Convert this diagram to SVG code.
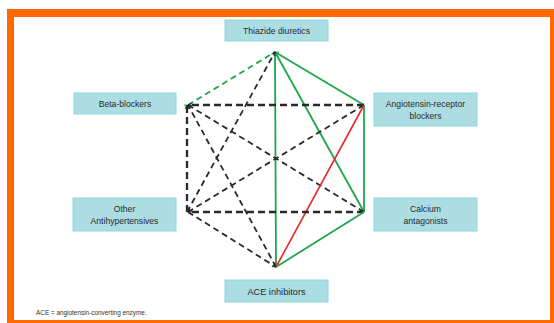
<svg xmlns="http://www.w3.org/2000/svg" width="554" height="323" viewBox="0 0 554 323">
<style>
.box{fill:#abdde3;stroke:#8fd6e0;stroke-width:1}
.lbl{font-family:"Liberation Sans",Arial,sans-serif;font-size:8.6px;fill:#2a2a2a;text-anchor:middle}
.dash{stroke:#2a2a2a;stroke-width:1.8;stroke-dasharray:6 4;fill:none}
.thick{stroke-width:2.3;stroke-dasharray:7 4}
.gdash{stroke:#1fa64a;stroke-width:1.8;stroke-dasharray:6 4;fill:none}
.green{stroke:#1fa64a;stroke-width:1.8;fill:none}
.red{stroke:#e8262a;stroke-width:1.6;fill:none}
</style>
<defs>
<marker id="ak" viewBox="0 0 8 8" refX="7" refY="4" markerWidth="5" markerHeight="5" orient="auto" markerUnits="userSpaceOnUse"><path d="M1,1 L7,4 L1,7" fill="none" stroke="#2a2a2a" stroke-width="1.6"/></marker>
<marker id="ag" viewBox="0 0 8 8" refX="7" refY="4" markerWidth="5" markerHeight="5" orient="auto" markerUnits="userSpaceOnUse"><path d="M1,1 L7,4 L1,7" fill="none" stroke="#1fa64a" stroke-width="1.6"/></marker>
<marker id="ar" viewBox="0 0 8 8" refX="7" refY="4" markerWidth="5" markerHeight="5" orient="auto" markerUnits="userSpaceOnUse"><path d="M1,1 L7,4 L1,7" fill="none" stroke="#e8262a" stroke-width="1.6"/></marker>
</defs>
<rect x="0" y="0" width="554" height="323" fill="#fff"/>
<rect x="7" y="9" width="547" height="314" fill="#ff6a00"/>
<rect x="14" y="17" width="536" height="303" fill="#fff"/>

<g id="connectors">
<line class="gdash" x1="188" y1="105" x2="275" y2="52" marker-start="url(#ag)"/>
<line class="green" x1="364" y1="105" x2="275" y2="52" marker-end="url(#ag)"/>
<line class="green" x1="364" y1="212" x2="275" y2="52" marker-end="url(#ag)"/>
<line class="green" x1="276" y1="267" x2="275" y2="52" marker-end="url(#ag)"/>
<line class="dash" x1="187" y1="212" x2="275" y2="52" marker-end="url(#ak)"/>
<line class="dash thick" x1="364" y1="105" x2="188" y2="105" marker-end="url(#ak)"/>
<line class="dash thick" x1="187" y1="212" x2="187" y2="105" marker-end="url(#ak)"/>
<line class="dash" x1="364" y1="212" x2="188" y2="105" marker-end="url(#ak)"/>
<line class="dash" x1="276" y1="267" x2="188" y2="105" marker-end="url(#ak)"/>
<line class="dash" x1="364" y1="105" x2="188" y2="212" marker-end="url(#ak)"/>
<line class="green" x1="364" y1="105" x2="364" y2="212" stroke-width="1.4"/>
<line class="red" x1="364" y1="105" x2="276" y2="267" marker-end="url(#ar)"/>
<line class="dash thick" x1="364" y1="212" x2="188" y2="212" marker-end="url(#ak)"/>
<line class="dash" x1="188" y1="212" x2="276" y2="267" marker-end="url(#ak)"/>
<line class="green" x1="364" y1="212" x2="276" y2="267" stroke-width="1.6"/>
</g>

<g id="thiazide"><rect class="box" x="225" y="20" width="103" height="21"/><text class="lbl" x="276.5" y="34">Thiazide diuretics</text></g>
<g id="beta"><rect class="box" x="74" y="93" width="102" height="21"/><text class="lbl" x="125" y="107">Beta-blockers</text></g>
<g id="arb"><rect class="box" x="374" y="93" width="103" height="33"/><text class="lbl" x="425.5" y="107">Angiotensin-receptor</text><text class="lbl" x="425.5" y="119">blockers</text></g>
<g id="other"><rect class="box" x="73" y="198" width="103" height="33"/><text class="lbl" x="124.5" y="212">Other</text><text class="lbl" x="124.5" y="224">Antihypertensives</text></g>
<g id="calcium"><rect class="box" x="374" y="198" width="103" height="33"/><text class="lbl" x="425.5" y="212">Calcium</text><text class="lbl" x="425.5" y="224">antagonists</text></g>
<g id="ace"><rect class="box" x="225" y="280" width="103" height="22"/><text class="lbl" x="276.5" y="294.5" style="font-size:9.2px">ACE inhibitors</text></g>

<text x="36" y="315" style="font-family:'Liberation Sans',Arial,sans-serif;font-size:6.4px;fill:#333">ACE = angiotensin-converting enzyme.</text>
</svg>
